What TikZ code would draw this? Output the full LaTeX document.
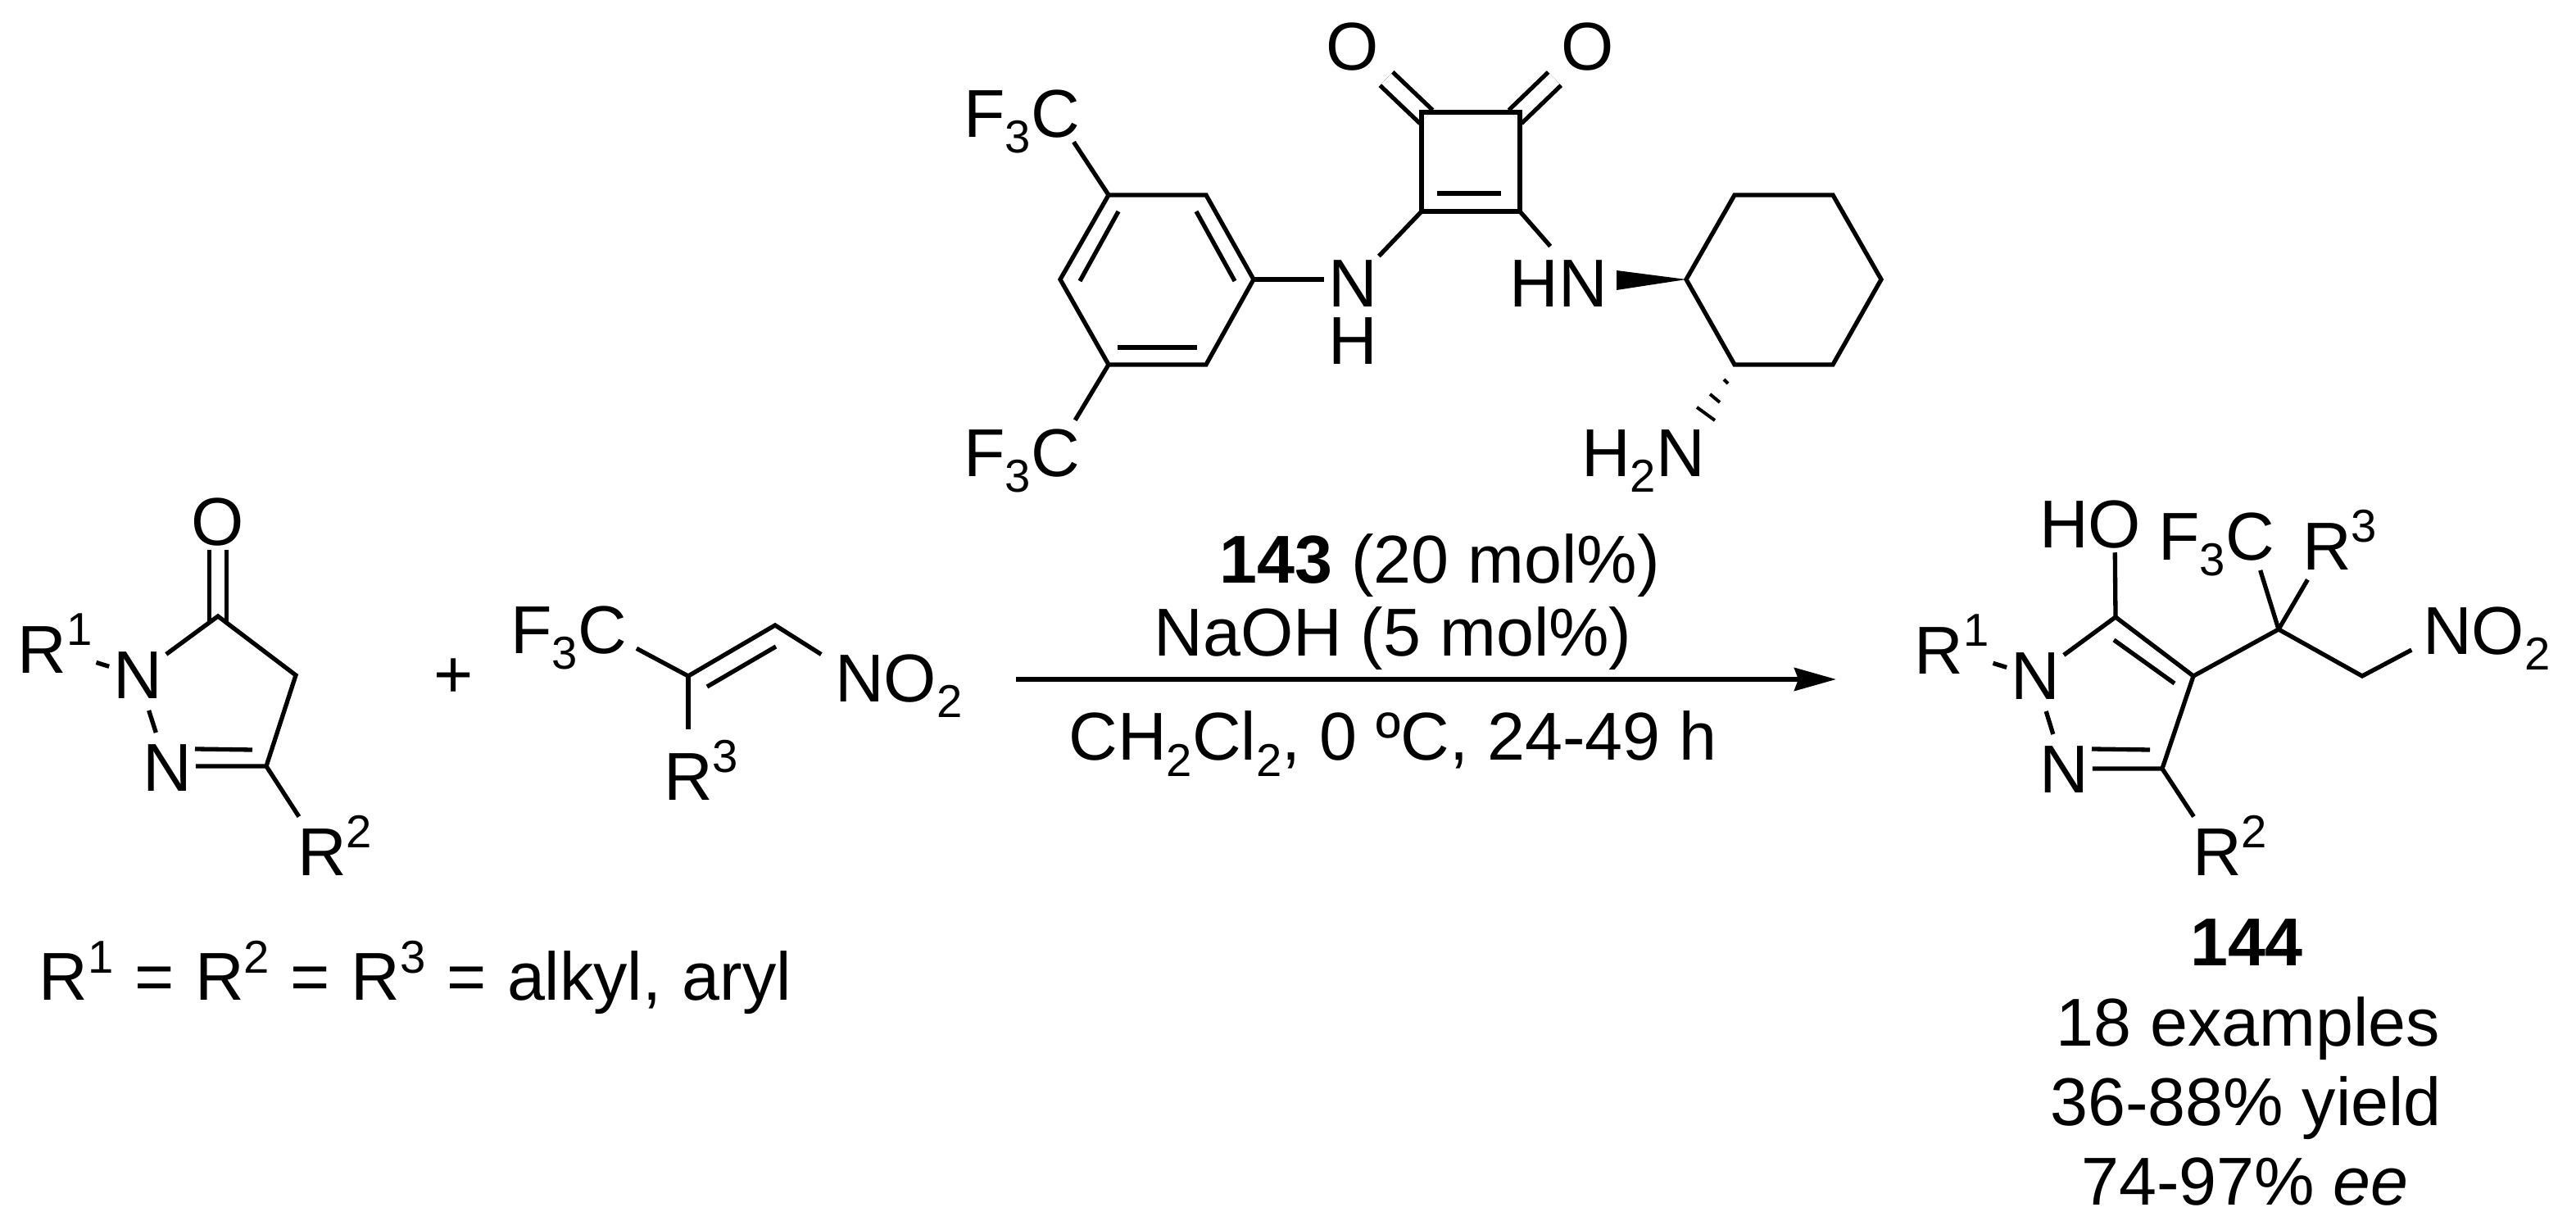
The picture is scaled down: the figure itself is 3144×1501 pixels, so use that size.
\documentclass[tikz,border=0pt]{standalone}
\usepackage{fontspec}
\setmainfont{Liberation Sans}
\usetikzlibrary{positioning,arrows.meta}
\newcommand{\lowr}[1]{\smash{\raisebox{-.23em}{\fontsize{16}{17}\selectfont #1}}}
\newcommand{\upr}[1]{\smash{\raisebox{.41em}{\fontsize{16}{17}\selectfont #1}}}

\begin{document}
\begin{tikzpicture}[x=.01cm, y=-.01cm]
    \tikzstyle{every node}=[font=\fontsize{23.5}{28}\selectfont, inner sep=0]
    \tikzstyle{atom}=[outer sep=.05cm]
    \tikzstyle{frag}=[outer sep=0]
    \tikzstyle{bond}=[line width=.053cm, line join=miter]
    \tikzstyle{dbl}=[bond, double, double distance=.17cm]
    \tikzstyle{hash}=[line width=.04cm]
    \useasboundingbox (0,0) rectangle (3144,1501);

    % catalyst
    \coordinate (sq1) at (1735,137);
    \coordinate (sq2) at (1855,137);
    \coordinate (sq3) at (1855,258);
    \coordinate (sq4) at (1735,258);
    \coordinate (sqa) at (1754,236);
    \coordinate (sqb) at (1832,236);
    \node[atom] (oa) at (1651,57) {O};
    \node[atom] (ob) at (1938,57) {O};
    \path (sq1) edge [dbl, shorten <=-.08cm, shorten >=.07cm] (oa);
    \path (sq2) edge [dbl, shorten <=-.08cm, shorten >=.07cm] (ob);
    \draw[bond] (sq1) -- (sq2) -- (sq3) -- (sq4) -- cycle;
    \draw[bond] (sqa) -- (sqb);

    \coordinate (ph1) at (1353,238);
    \coordinate (ph2) at (1472,238);
    \coordinate (ph3) at (1530,341);
    \coordinate (ph4) at (1472,445);
    \coordinate (ph5) at (1353,445);
    \coordinate (ph6) at (1294,341);
    \coordinate (pia) at (1365,258);
    \coordinate (pib) at (1318,343);
    \coordinate (pic) at (1460,258);
    \coordinate (pid) at (1507,343);
    \coordinate (pie) at (1364,424);
    \coordinate (pif) at (1461,424);
    \draw[bond] (ph1) -- (ph2) -- (ph3) -- (ph4) -- (ph5) -- (ph6) -- cycle;
    \foreach \a/\b in {pia/pib, pic/pid, pie/pif}
        \draw[bond] (\a) -- (\b);

    \node[atom] (cfa) at (1288,139) {C};
    \node[frag, base left=-.05cm of cfa] (fa) {F\lowr{3}};
    \node[atom] (cfb) at (1288,553) {C};
    \node[frag, base left=-.05cm of cfb] (fb) {F\lowr{3}};
    \path (ph1) edge [bond] (cfa);
    \path (ph5) edge [bond, shorten >=.07cm] (cfb);

    \node[atom] (nha) at (1651,346) {N};
    \node[frag] (nhb) at (1651,416) {H};
    \node[atom] (hnb) at (1932,346) {N};
    \node[frag, base left=-.05cm of hnb] (hna) {H};
    \draw[bond] (ph3) -- (ph3 -| nha.west);
    \path (sq4) edge [bond] (nha);
    \path (sq3) edge [bond, shorten >=.16cm] (hnb);

    \coordinate (cy1) at (2117,238);
    \coordinate (cy2) at (2237,238);
    \coordinate (cy3) at (2296,341);
    \coordinate (cy4) at (2237,445);
    \coordinate (cy5) at (2117,445);
    \coordinate (cy6) at (2058,341);
    \draw[bond] (cy1) -- (cy2) -- (cy3) -- (cy4) -- (cy5) -- (cy6) -- cycle;
    \fill (cy6) -- ++(-85,-11) -- ++(0,24) -- cycle;
    \node[atom] (nhc) at (2051,553) {N};
    \node[frag, base left=-.05cm of nhc] (hc) {H\lowr{2}};
    \draw[hash] (2104,463) -- (2109,468);
    \draw[hash] (2087,481) -- (2099,491);
    \draw[hash] (2071,497) -- (2093,513);

    % pyrazolone
    \coordinate (ca) at (266,752);
    \coordinate (cb) at (361,824);
    \coordinate (cc) at (325,935);
    \coordinate (cia) at (238,914);
    \coordinate (cib) at (308,915);
    \node[atom] (oc) at (266,637) {O};
    \node[atom] (na) at (168,824) {N};
    \node[atom] (nb) at (204,937) {N};
    \node[atom] (ra) at (67,793) {R\upr{1}};
    \node[atom, outer sep=.15cm] (rb) at (393,1040) {R\rlap{\upr{2}}};
    \path (ca) edge [dbl, double distance=.15cm, shorten <=-.07cm] (oc);
    \draw[bond] (na) -- (ca) -- (cb) -- (cc) -- (cc -| nb.east);
    \draw[bond] (cia) -- (cib);
    \path (na) edge [bond, shorten <=.1cm, shorten >=.1cm] (nb);
    \path (ra) edge [bond] (na);
    \path (cc) edge [bond] (rb);

    \node (plus) at (554,828) {+};

    % nitroalkene
    \coordinate (va) at (840,825);
    \coordinate (vb) at (946,763);
    \coordinate (via) at (863,838);
    \coordinate (vib) at (947,789);
    \node[atom] (cfc) at (735,769) {C};
    \node[frag, base left=-.05cm of cfc] (fc) {F\lowr{3}};
    \node[atom] (nc) at (1049,828) {N};
    \node[frag, base right=-.05cm of nc] (noa) {O\lowr{2}};
    \node[atom, outer sep=.3cm] (rc) at (840,948) {R\rlap{\upr{3}}};
    \draw[bond, shorten <=.08cm, shorten >=.14cm] (cfc) -- (va) -- (vb) -- (nc);
    \draw[bond] (via) -- (vib);
    \path (va) edge [bond] (rc);

    \node[anchor=base west] (subst) at (47,1221) {\spaceskip=.31em R\upr{1} = R\upr{2} = R\upr{3} = alkyl, aryl};

    % arrow and conditions
    \coordinate (arra) at (1240,829);
    \coordinate (arrb) at (2241,829);
    \draw[line width=.057cm, -{Stealth[length=.51cm, width=.28cm, inset=.05cm]}] (arra) -- (arrb);
    \node[anchor=base] (cata) at (1757,712) {\textbf{143} (20 mol\%)};
    \node[anchor=base] (base) at (1700,801) {NaOH (5 mol\%)};
    \node[anchor=base] (solv) at (1700,928) {CH\lowr{2}Cl\lowr{2}, 0 ºC, 24-49 h};

    % product
    \coordinate (pa) at (2582,753);
    \coordinate (pb) at (2677,825);
    \coordinate (pc) at (2639,938);
    \coordinate (pq) at (2781,768);
    \coordinate (pm) at (2883,825);
    \coordinate (qia) at (2580,781);
    \coordinate (qib) at (2654,834);
    \coordinate (qic) at (2553,914);
    \coordinate (qid) at (2624,915);
    \node[atom] (pox) at (2581,640) {O};
    \node[frag, base left=-.05cm of pox] (phx) {H};
    \node[atom] (pna) at (2484,825) {N};
    \node[atom] (pnb) at (2519,939) {N};
    \node[atom] (pra) at (2382,794) {R\upr{1}};
    \node[atom, outer sep=.15cm] (prb) at (2706,1040) {R\rlap{\upr{2}}};
    \node[atom, outer sep=.12cm] (prc) at (2840,667) {R\rlap{\upr{3}}};
    \node[atom] (pcf) at (2746,655) {C};
    \node[frag, base left=-.05cm of pcf] (pf) {F\lowr{3}};
    \node[atom] (pnc) at (2987,770) {N};
    \node[frag, base right=-.05cm of pnc] (pno) {O\lowr{2}};
    \draw[bond] (pna) -- (pa) -- (pb) -- (pc) -- (pc -| pnb.east);
    \draw[bond] (qia) -- (qib);
    \draw[bond] (qic) -- (qid);
    \path (pa) edge [bond] (pox);
    \path (pna) edge [bond, shorten <=.1cm, shorten >=.1cm] (pnb);
    \path (pra) edge [bond] (pna);
    \path (pc) edge [bond] (prb);
    \draw[bond, shorten >=.1cm] (pb) -- (pq) -- (pm) -- (pnc);
    \path (pq) edge [bond, shorten >=.07cm] (pcf);
    \path (pq) edge [bond] (prc);

    \node[anchor=base] (numb) at (2742,1179) {\textbf{144}};
    \node[anchor=base] (exa) at (2744,1277) {18 examples};
    \node[anchor=base] (yld) at (2741,1374) {36-88\% yield};
    \node[anchor=base] (ee) at (2740,1471) {74-97\% \textit{ee}};
\end{tikzpicture}
\end{document}
